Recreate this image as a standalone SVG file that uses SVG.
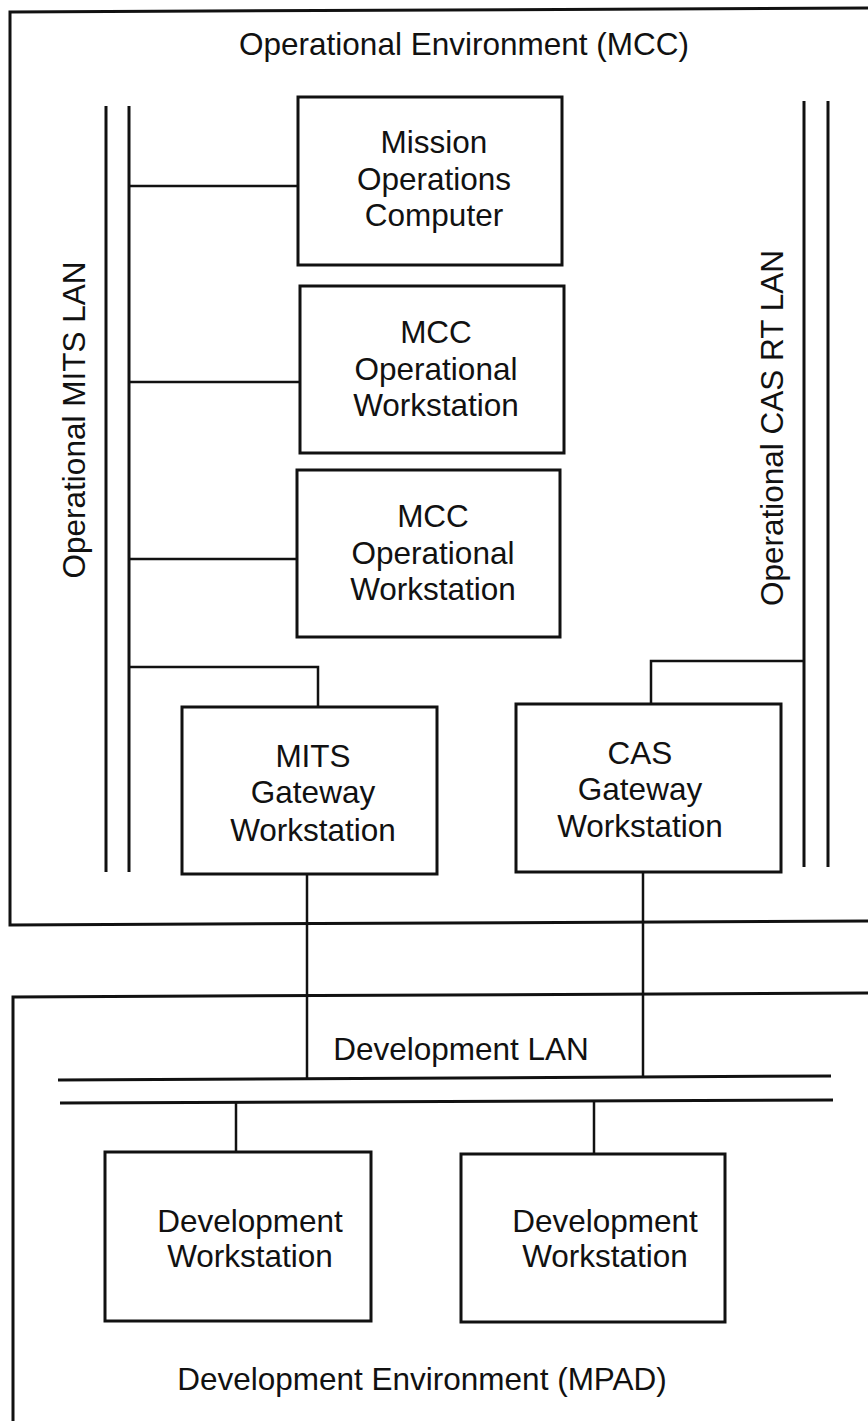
<svg xmlns="http://www.w3.org/2000/svg" width="868" height="1421" viewBox="0 0 868 1421">
<style>
  .bg { fill: #ffffff; }
  .frame { fill: none; stroke: #111; stroke-width: 3; }
  .box { fill: #ffffff; stroke: #111; stroke-width: 3; }
  .bus { fill: none; stroke: #111; stroke-width: 3; }
  .conn { fill: none; stroke: #111; stroke-width: 2.5; }
  text { font-family: "Liberation Sans", Arial, Helvetica, sans-serif; font-size: 31.5px; fill: #111; text-anchor: middle; }
</style>
<rect class="bg" x="0" y="0" width="868" height="1421"/>

<g id="operational-environment">
  <path class="frame" d="M868,8 L10,12 L10,925 L868,921"/>
  <text x="464" y="55">Operational Environment (MCC)</text>
</g>

<g id="development-environment">
  <path class="frame" d="M868,993 L13,997 L13,1421"/>
  <text x="422" y="1390">Development Environment (MPAD)</text>
</g>

<g id="operational-mits-lan">
  <line class="bus" x1="106" y1="106" x2="106" y2="872"/>
  <line class="bus" x1="129" y1="106" x2="129" y2="872"/>
  <text transform="translate(85,420) rotate(-90)">Operational MITS LAN</text>
</g>

<g id="operational-cas-rt-lan">
  <line class="bus" x1="804" y1="101" x2="804" y2="867"/>
  <line class="bus" x1="828" y1="101" x2="828" y2="867"/>
  <text transform="translate(783,428) rotate(-90)">Operational CAS RT LAN</text>
</g>

<g id="development-lan">
  <line class="bus" x1="58" y1="1080" x2="831" y2="1076"/>
  <line class="bus" x1="60" y1="1103" x2="833" y2="1100"/>
  <text x="461" y="1060">Development LAN</text>
</g>

<g id="mission-operations-computer">
  <rect class="box" x="298" y="97" width="264" height="168"/>
  <text x="434" y="153">Mission</text>
  <text x="434" y="189.5">Operations</text>
  <text x="434" y="226">Computer</text>
</g>

<g id="mcc-operational-workstation-1">
  <rect class="box" x="300" y="286" width="264" height="167"/>
  <text x="436" y="343">MCC</text>
  <text x="436" y="380">Operational</text>
  <text x="436" y="416">Workstation</text>
</g>

<g id="mcc-operational-workstation-2">
  <rect class="box" x="297" y="470" width="263" height="167"/>
  <text x="433" y="527">MCC</text>
  <text x="433" y="564">Operational</text>
  <text x="433" y="600">Workstation</text>
</g>

<g id="mits-gateway-workstation">
  <rect class="box" x="182" y="707" width="255" height="167"/>
  <text x="313" y="767">MITS</text>
  <text x="313" y="803">Gateway</text>
  <text x="313" y="841">Workstation</text>
</g>

<g id="cas-gateway-workstation">
  <rect class="box" x="516" y="704" width="265" height="168"/>
  <text x="640" y="764">CAS</text>
  <text x="640" y="800">Gateway</text>
  <text x="640" y="837">Workstation</text>
</g>

<g id="development-workstation-1">
  <rect class="box" x="105" y="1152" width="266" height="169"/>
  <text x="250" y="1232">Development</text>
  <text x="250" y="1267">Workstation</text>
</g>

<g id="development-workstation-2">
  <rect class="box" x="461" y="1154" width="264" height="168"/>
  <text x="605" y="1232">Development</text>
  <text x="605" y="1267">Workstation</text>
</g>

<g id="connectors">
  <line class="conn" x1="129" y1="186" x2="298" y2="186"/>
  <line class="conn" x1="129" y1="382" x2="300" y2="382"/>
  <line class="conn" x1="129" y1="559" x2="297" y2="559"/>
  <path class="conn" d="M129,667 H318 V707"/>
  <path class="conn" d="M804,661 H651 V704"/>
  <line class="conn" x1="307" y1="874" x2="307" y2="1079"/>
  <line class="conn" x1="643" y1="872" x2="643" y2="1077"/>
  <line class="conn" x1="236" y1="1102" x2="236" y2="1152"/>
  <line class="conn" x1="594" y1="1101" x2="594" y2="1154"/>
</g>
</svg>
